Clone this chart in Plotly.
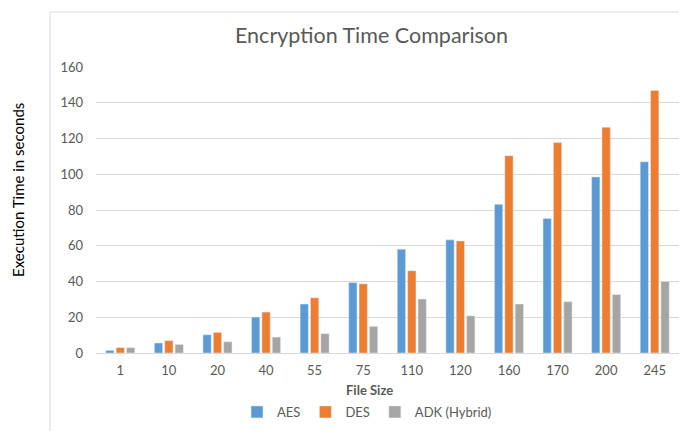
import plotly.graph_objects as go

categories = ["1", "10", "20", "40", "55", "75", "110", "120", "160", "170", "200", "245"]
aes = [1.5, 5.6, 10.2, 20.1, 27.4, 39.4, 58.1, 63.3, 83.2, 75.2, 98.5, 107.0]
des = [3.0, 6.9, 11.5, 22.9, 30.9, 38.7, 46.0, 62.7, 110.4, 117.7, 126.3, 146.9]
adk = [3.0, 4.8, 6.3, 8.9, 10.8, 14.9, 30.2, 20.8, 27.4, 28.7, 32.7, 40.0]
y_ticks = [0, 20, 40, 60, 80, 100, 120, 140, 160]

FONT = "Lato"
TXT = "#595959"
GRID = "#D9D9D9"

OFF = 8  # page body margin
W, H = 687 - OFF, 431 - OFF
L, R, T = 96 - OFF, 8, 67 - OFF
B = H - (353 - OFF)
pw = W - L - R
ph = H - T - B

def px(x):
    return (x - OFF - L) / pw

def py(y):
    return (H - B - (y - OFF)) / ph

fig = go.Figure()
fig.add_bar(name="AES", x=categories, y=aes, marker_color="#5B9BD5")
fig.add_bar(name="DES", x=categories, y=des, marker_color="#ED7D31")
fig.add_bar(name="ADK (Hybrid)", x=categories, y=adk, marker_color="#A5A5A5")

fig.update_layout(
    width=W, height=H,
    margin=dict(l=L, r=R, t=T, b=B, autoexpand=False),
    paper_bgcolor="white", plot_bgcolor="white",
    barmode="group", bargap=0.36, bargroupgap=0.2,
    font=dict(family=FONT, color=TXT, size=13),
    showlegend=True,
    legend=dict(orientation="h", x=px(367), xanchor="center", y=py(412), yanchor="middle",
                font=dict(size=13, color=TXT), itemwidth=30, traceorder="normal"),
)
fig.update_xaxes(type="category", showgrid=False, showline=False, ticks="",
                 tickfont=dict(size=13, color=TXT), ticklabelstandoff=8)
fig.update_yaxes(range=[0, 160], tickvals=y_ticks, showgrid=True, gridcolor=GRID, gridwidth=1,
                 zeroline=True, zerolinecolor=GRID, zerolinewidth=1, showline=False, ticks="",
                 tickfont=dict(size=13, color=TXT), ticklabelstandoff=12)

fig.add_annotation(text="Encryption Time Comparison", x=px(371), y=py(35), xref="paper", yref="paper",
                   showarrow=False, font=dict(size=21.5, color=TXT, family=FONT), xanchor="center", yanchor="middle")
fig.add_annotation(text="<b>File Size</b>", x=px(369), y=py(390), xref="paper", yref="paper",
                   showarrow=False, font=dict(size=13, color=TXT, family=FONT), xanchor="center", yanchor="middle")
fig.add_annotation(text="Execution Time in seconds", x=px(18), y=py(190), xref="paper", yref="paper",
                   showarrow=False, textangle=-90, font=dict(size=15, color="#000000", family=FONT),
                   xanchor="center", yanchor="middle")

# chart frame
fig.add_shape(type="line", xref="paper", yref="paper", x0=px(50), x1=px(50), y0=py(12), y1=py(431),
              line=dict(color=GRID, width=1))
fig.add_shape(type="line", xref="paper", yref="paper", x0=px(50), x1=px(687), y0=py(12), y1=py(12),
              line=dict(color=GRID, width=1))

fig.write_html("out.html")
